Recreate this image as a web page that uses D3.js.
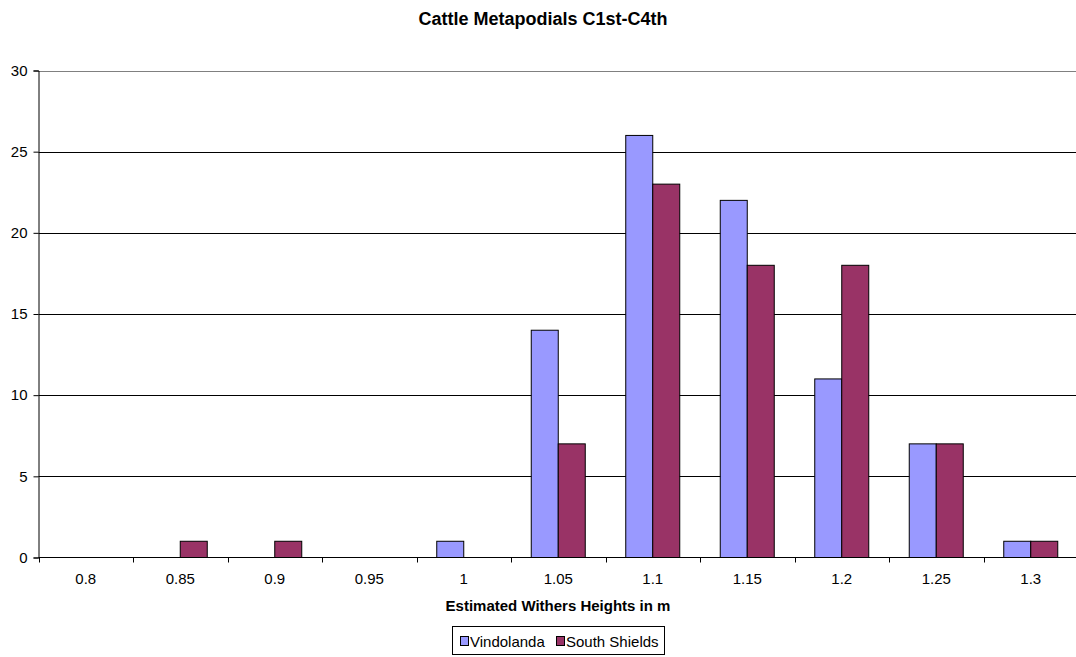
<!DOCTYPE html>
<html>
<head>
<meta charset="utf-8">
<script src="https://cdn.jsdelivr.net/npm/d3@7"></script>
<style>
  html, body { margin: 0; padding: 0; background: #fff; }
  svg { display: block; font-family: Arial, "Liberation Sans", sans-serif; }
</style>
</head>
<body>
<svg id="chart" width="1076" height="657"></svg>
<script>
// Withers height classes (m) and counts of metapodials per site
const heights = ["0.8", "0.85", "0.9", "0.95", "1", "1.05", "1.1", "1.15", "1.2", "1.25", "1.3"];
const vindolanda = [0, 0, 0, 0, 1, 14, 26, 22, 11, 7, 1];
const southShields = [0, 1, 1, 0, 0, 7, 23, 18, 18, 7, 1];
const seriesNames = ["Vindolanda", "South Shields"];
const seriesColors = ["#9999FF", "#993366"];
const yTicks = [0, 5, 10, 15, 20, 25, 30];

const svg = d3.select("#chart");
const W = 1076;
const plotLeft = 38.5, plotRight = 1078, plotTop = 70.5, plotBottom = 557.5;
const FONT = 15;

const x = d3.scaleBand()
  .domain(heights)
  .range([plotLeft, plotRight])
  .paddingInner(0)
  .paddingOuter(0);

const y = d3.scaleLinear().domain([0, 30]).range([plotBottom, plotTop]);

// two bars per group, gap of 1.5 bar widths between groups
const barW = x.bandwidth() / 3.5;
const xs = d3.scaleBand().domain(seriesNames).range([0, 2 * barW]);

// gridlines (top edge is the grey plot-area border)
svg.append("g")
  .selectAll("line")
  .data(yTicks.filter(d => d > 0))
  .join("line")
  .attr("x1", plotLeft)
  .attr("x2", W)
  .attr("y1", d => Math.round(y(d)) + 0.5)
  .attr("y2", d => Math.round(y(d)) + 0.5)
  .attr("stroke", d => d === 30 ? "#808080" : "#000")
  .attr("stroke-width", 1);

// bars
const rows = heights.map((h, i) => ({ h, vals: [vindolanda[i], southShields[i]] }));
const groups = svg.append("g")
  .selectAll("g")
  .data(rows)
  .join("g")
  .attr("transform", d => `translate(${x(d.h) + x.bandwidth() / 2 - barW},0)`);

groups.selectAll("rect")
  .data(d => d.vals.map((v, k) => ({ v, k })).filter(e => e.v > 0))
  .join("rect")
  .attr("x", e => xs(seriesNames[e.k]))
  .attr("y", e => y(e.v))
  .attr("width", barW)
  .attr("height", e => plotBottom - y(e.v))
  .attr("fill", e => seriesColors[e.k])
  .attr("stroke", "#000")
  .attr("stroke-width", 1);

// y axis
const yAxis = d3.axisLeft(y).tickValues(yTicks).tickSize(5).tickPadding(6).tickFormat(d3.format("d"));
const gy = svg.append("g").attr("transform", `translate(${plotLeft},0)`).call(yAxis);
gy.select(".domain").attr("stroke", "#000");
gy.selectAll(".tick line").attr("stroke", "#000");
gy.selectAll("text").attr("font-size", FONT).attr("fill", "#000")
  .attr("font-family", "Arial, 'Liberation Sans', sans-serif");

// x axis: ticks at category boundaries
const gx = svg.append("g").attr("transform", `translate(0,${plotBottom})`);
gx.append("line")
  .attr("x1", plotLeft).attr("x2", W)
  .attr("y1", 0).attr("y2", 0)
  .attr("stroke", "#000");
gx.selectAll("line.tk")
  .data(heights)
  .join("line")
  .attr("class", "tk")
  .attr("x1", d => Math.round(x(d)) + 0.5)
  .attr("x2", d => Math.round(x(d)) + 0.5)
  .attr("y1", 0).attr("y2", 5)
  .attr("stroke", "#000");
gx.selectAll("text")
  .data(heights)
  .join("text")
  .attr("x", d => x(d) + x.bandwidth() / 2)
  .attr("y", 26)
  .attr("text-anchor", "middle")
  .attr("font-size", FONT)
  .text(d => d);

// titles
svg.append("text")
  .attr("x", 543).attr("y", 25)
  .attr("text-anchor", "middle")
  .attr("font-size", 18).attr("font-weight", "bold")
  .text("Cattle Metapodials C1st-C4th");

svg.append("text")
  .attr("x", 558).attr("y", 611)
  .attr("text-anchor", "middle")
  .attr("font-size", FONT).attr("font-weight", "bold")
  .text("Estimated Withers Heights in m");

// legend
const lg = svg.append("g");
lg.append("rect")
  .attr("x", 452.5).attr("y", 626.5)
  .attr("width", 212).attr("height", 28)
  .attr("fill", "#fff").attr("stroke", "#000");
const items = [
  { x: 460, label: seriesNames[0], c: seriesColors[0] },
  { x: 556, label: seriesNames[1], c: seriesColors[1] }
];
items.forEach(it => {
  lg.append("rect")
    .attr("x", it.x + 0.5).attr("y", 636.5)
    .attr("width", 8).attr("height", 9)
    .attr("fill", it.c).attr("stroke", "#000");
  lg.append("text")
    .attr("x", it.x + 10).attr("y", 647)
    .attr("font-size", FONT)
    .text(it.label);
});
</script>
</body>
</html>
